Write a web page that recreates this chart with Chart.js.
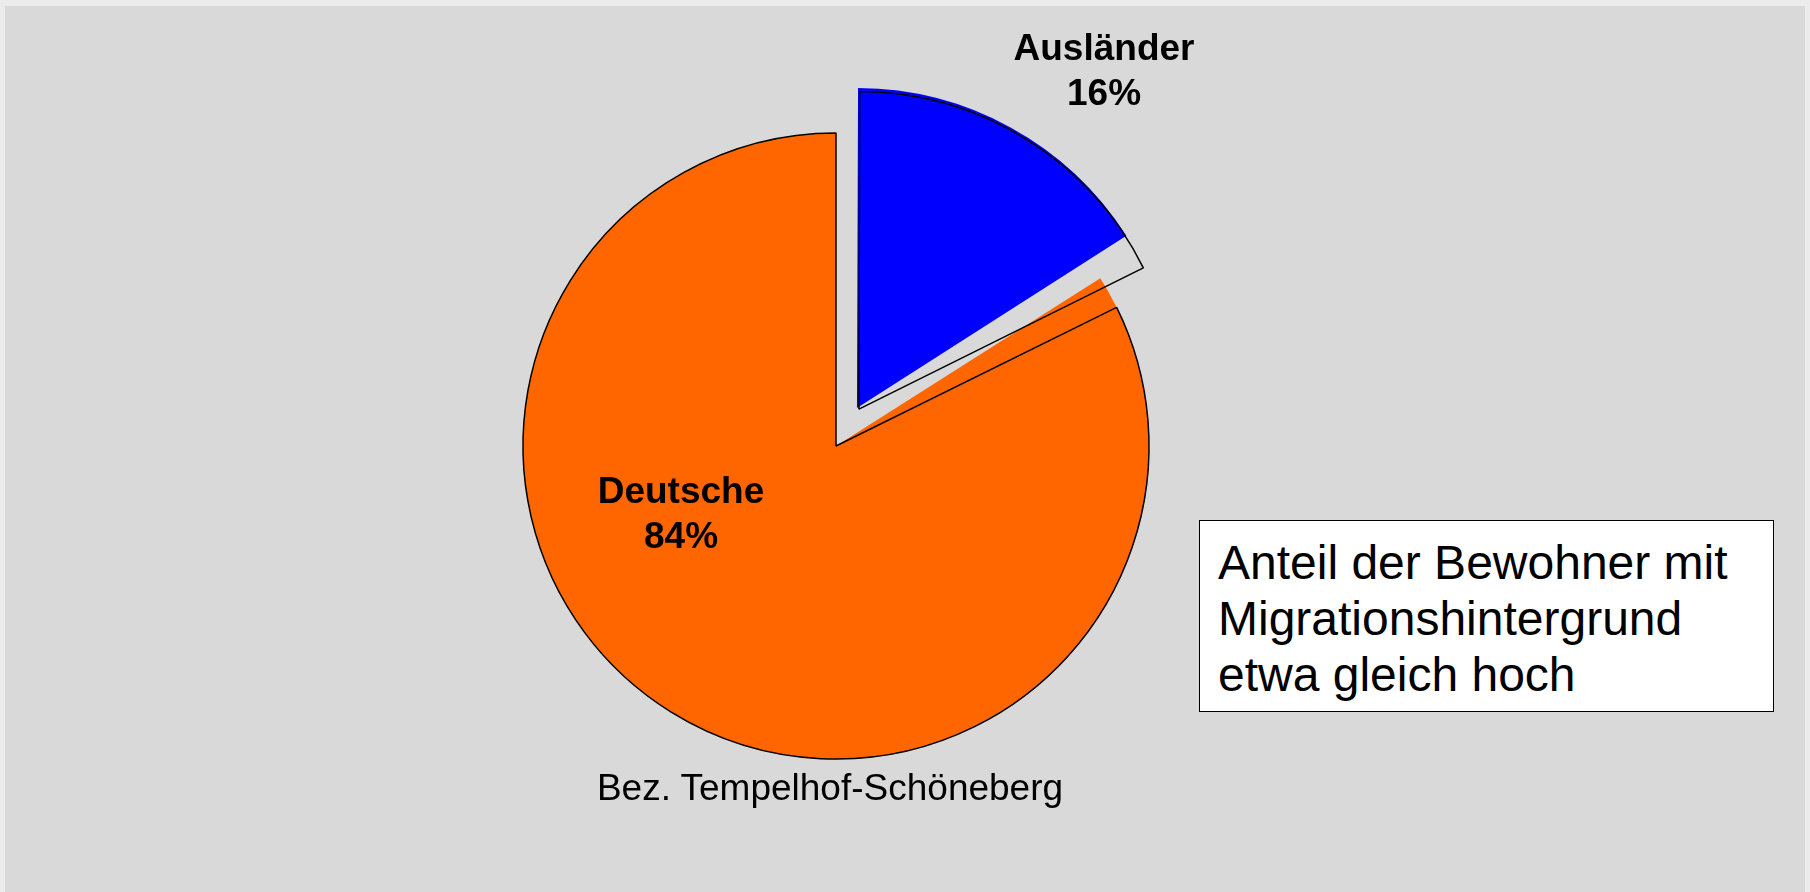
<!DOCTYPE html>
<html>
<head>
<meta charset="utf-8">
<script src="https://cdn.jsdelivr.net/npm/chart.js@4"></script>
<style>
    body { margin: 0; background: #ececec; width: 1810px; height: 892px; overflow: hidden; font-family: "Liberation Sans", Arial, sans-serif; }
    #frame { position: absolute; left: 5px; top: 6px; width: 1800px; height: 886px; background: #d9d9d9; }
    canvas { position: absolute; left: 0; top: 0; }
    #district { position: absolute; left: 0; top: 767px; width: 1660px; text-align: center; font-size: 37px; color: #000; }
    #note { position: absolute; left: 1199px; top: 520px; width: 555px; height: 176px; border: 1.5px solid #000; background: #fff;
            padding: 14px 0 0 18px; font-size: 48px; line-height: 56px; color: #000; white-space: nowrap; }
</style>
</head>
<body>
<div id="frame"></div>
<canvas id="fillChart" width="1810" height="892"></canvas>
<canvas id="outlineChart" width="1810" height="892"></canvas>
<div id="district">Bez. Tempelhof-Schöneberg</div>
<div id="note">Anteil der Bewohner mit<br>Migrationshintergrund<br>etwa gleich hoch</div>

<script>
const categories = ['Ausländer', 'Deutsche'];
const shareValues = [16, 84];
// the slice outlines in the original sit a bit off the fills
const outlineValues = [17.7, 82.3];
const sliceColors = ['#0000ff', '#ff6600'];
const pctLabels = ['16%', '84%'];

// label anchors relative to the pie centre: [dx, dy of first line]
const labelAnchors = [[268, -386], [-155, 57]];

const commonOptions = {
    responsive: false,
    animation: false,
    events: [],
    radius: 313,
    layout: { padding: { left: 0, right: 138, top: 0, bottom: 0 } },
    plugins: { legend: { display: false }, tooltip: { enabled: false } }
};

const sliceLabels = {
    id: 'sliceLabels',
    afterDatasetsDraw(chart) {
        const ctx = chart.ctx;
        const arc = chart.getDatasetMeta(0).data[0];
        ctx.save();
        ctx.font = 'bold 37px "Liberation Sans", Arial, sans-serif';
        ctx.fillStyle = '#000';
        ctx.textAlign = 'center';
        ctx.textBaseline = 'alphabetic';
        categories.forEach((cat, i) => {
            const x = arc.x + labelAnchors[i][0];
            const y = arc.y + labelAnchors[i][1];
            ctx.fillText(cat, x, y);
            ctx.fillText(pctLabels[i], x, y + 45);
        });
        ctx.restore();
    }
};

new Chart(document.getElementById('fillChart'), {
    type: 'pie',
    data: {
        labels: categories,
        datasets: [{
            data: shareValues,
            backgroundColor: sliceColors,
            borderWidth: 0,
            offset: [174, 0]
        }]
    },
    options: commonOptions,
    plugins: [sliceLabels]
});

new Chart(document.getElementById('outlineChart'), {
    type: 'pie',
    data: {
        labels: categories,
        datasets: [{
            data: outlineValues,
            backgroundColor: 'rgba(0,0,0,0)',
            borderColor: '#000',
            borderWidth: 1.5,
            offset: [174, 0]
        }]
    },
    options: commonOptions
});
</script>
</body>
</html>
